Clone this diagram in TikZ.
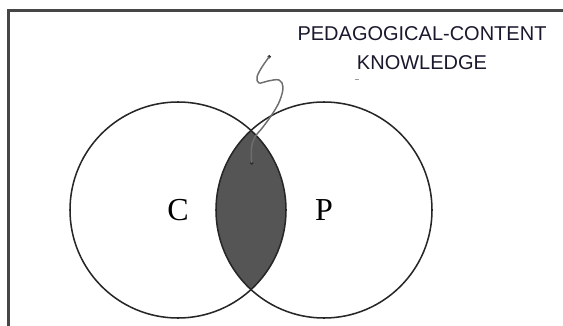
\documentclass[tikz,border=0pt]{standalone}
\usepackage{fontspec}
\setmainfont{Liberation Serif}
\newfontfamily\labelfont{Liberation Sans}
\definecolor{framegray}{RGB}{70,70,70}
\definecolor{lensgray}{RGB}{85,85,85}
\definecolor{squiggray}{RGB}{110,110,110}
\definecolor{labelink}{RGB}{25,25,45}
\usetikzlibrary{positioning}

\begin{document}
\begin{tikzpicture}[x=0.75pt,y=0.75pt,
  venn/.style={circle,draw=black!85,line width=1.15pt,minimum size=162pt,inner sep=0pt,
    font=\fontsize{24}{26}\selectfont},
  pcklabel/.style={font=\labelfont\fontsize{15}{21.3}\selectfont,align=center,text=labelink},
  tipdot/.style={circle,fill=black!85,inner sep=0pt,minimum size=2.8pt},
  squig/.style={squiggray,line width=1.1pt}
]
  \clip (0,0) rectangle (563,325);
  % outer frame (cut off at right and bottom)
  \draw[framegray,line width=1.9pt] (8.5,-20) rectangle (600,314.5);

  % overlap of the two sets
  \begin{scope}
    \clip (178,115) circle (108);
    \fill[lensgray] (324,115) circle (108);
  \end{scope}

  % the two sets
  \node[venn] (C) at (178,115) {C};
  \node[venn] (P) at (324,115) {P};

  % label
  \node[pcklabel] (pck) at (422,277) {PEDAGOGICAL-CONTENT\\KNOWLEDGE};
  \draw[black!40,line width=0.6pt] (354.5,246) -- (358.5,246);

  % pointer into the overlap
  \node[tipdot] (start) at (269.3,268.3) {};
  \node[tipdot] (tip) at (251.7,162) {};
  \draw[squig] plot[smooth,tension=0.6] coordinates {(start.center) (262,258) (257,248)
    (259,242) (268,244) (279,245) (283,238) (280,225) (273,212) (263,198)
    (255,188) (251.5,177) (tip.center)};
\end{tikzpicture}
\end{document}
